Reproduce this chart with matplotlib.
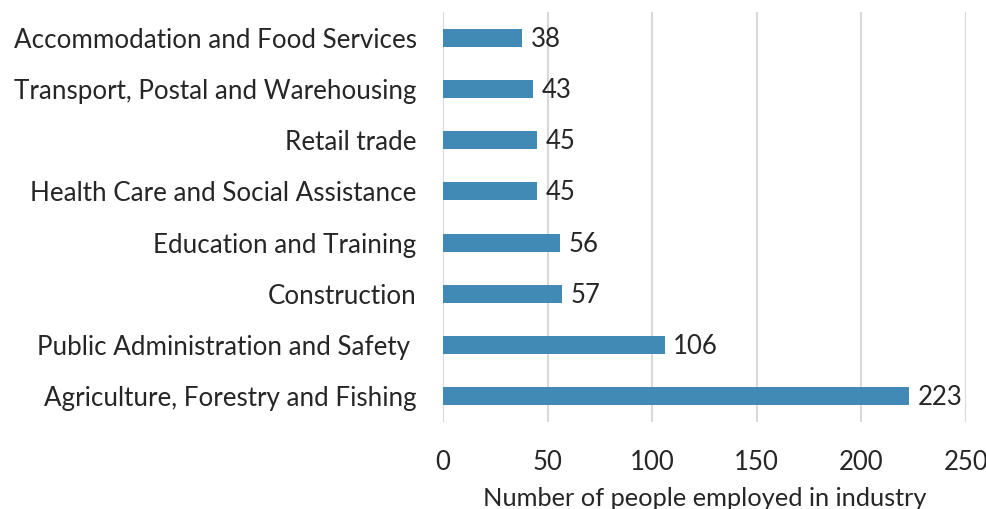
import matplotlib.pyplot as plt

industries = [
    "Agriculture, Forestry and Fishing",
    "Public Administration and Safety ",
    "Construction",
    "Education and Training",
    "Health Care and Social Assistance",
    "Retail trade",
    "Transport, Postal and Warehousing",
    "Accommodation and Food Services",
]
employed = [223, 106, 57, 56, 45, 45, 43, 38]

plt.rcParams["font.family"] = ["Lato", "DejaVu Sans"]

fig = plt.figure(figsize=(9.87, 5.09), dpi=100)
ax = fig.add_axes([0.4488, 0.1709, 0.5299, 0.8055])

bars = ax.barh(range(len(industries)), employed, height=0.35, color="#418AB5", zorder=3)
for i, v in enumerate(employed):
    ax.annotate(str(v), (v, i), xytext=(6, -1), textcoords="offset points",
                va="center", ha="left", fontsize=18.5, color="#262626")

ax.set_yticks(range(len(industries)))
ax.set_yticklabels(industries, fontsize=18.7, color="#262626")
ax.set_ylim(-0.5, len(industries) - 0.5)
ax.set_xlim(0, 250)
ax.set_xticks([0, 50, 100, 150, 200, 250])
ax.tick_params(axis="x", labelsize=18.5, length=0, pad=20, labelcolor="#262626")
ax.tick_params(axis="y", length=0, pad=19)
ax.set_xlabel("Number of people employed in industry", fontsize=18.3, color="#262626", labelpad=9)

ax.grid(axis="x", color="#D9D9D9", linewidth=1.5, zorder=0)
for s in ax.spines.values():
    s.set_visible(False)

fig.savefig("out.png", dpi=100)
